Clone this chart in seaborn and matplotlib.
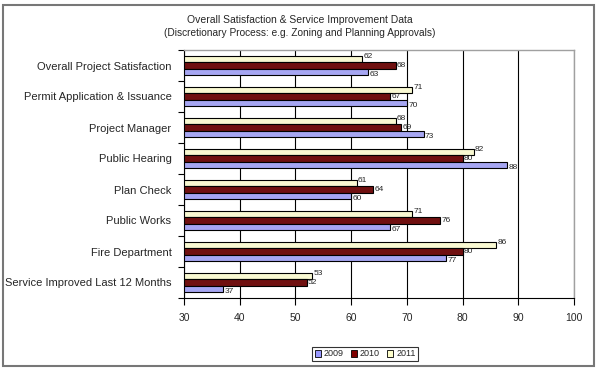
import matplotlib
matplotlib.use("Agg")
import matplotlib.pyplot as plt
import seaborn as sns
import pandas as pd
from matplotlib.patches import Rectangle, Patch

categories = ["Overall Project Satisfaction", "Permit Application & Issuance",
              "Project Manager", "Public Hearing", "Plan Check", "Public Works",
              "Fire Department", "Service Improved Last 12 Months"]
v2009 = [63, 70, 73, 88, 60, 67, 77, 37]
v2010 = [68, 67, 69, 80, 64, 76, 80, 52]
v2011 = [62, 71, 68, 82, 61, 71, 86, 53]
years = ["2009", "2010", "2011"]
xticks = [30, 40, 50, 60, 70, 80, 90, 100]

colors = {"2009": "#9999FF", "2010": "#800000", "2011": "#FFFFCC"}

rows = []
for y, vals in zip(years, [v2009, v2010, v2011]):
    for c, v in zip(categories, vals):
        rows.append({"category": c, "year": y, "value": v})
df = pd.DataFrame(rows)

sns.set_theme(style="white")
plt.rcParams["font.family"] = ["Liberation Sans", "DejaVu Sans"]

fig = plt.figure(figsize=(6, 3.75), dpi=100)
ax = fig.add_axes([184/600, 1-298/375, 390/600, 248/375])

sns.barplot(data=df, y="category", x="value", hue="year",
            hue_order=["2011", "2010", "2009"], order=categories,
            palette=colors, orient="h", width=0.62, ax=ax,
            edgecolor="black", linewidth=0.8, legend=False, errorbar=None)

ax.set_xlim(30, 100)
ax.set_xticks(xticks)
ax.set_xticklabels([str(t) for t in xticks], fontsize=7.5)
ax.set_xlabel("")
ax.set_ylabel("")
ax.tick_params(axis="y", which="major", length=0, labelsize=8, pad=9)
ax.set_yticks([i - 0.5 for i in range(len(categories) + 1)], minor=True)
ax.tick_params(axis="y", which="minor", length=4, color="black", width=0.8, direction="out", left=True)
ax.tick_params(axis="x", length=5, color="black", width=0.8, direction="out", bottom=True, pad=6)
ax.set_ylim(len(categories) - 0.5, -0.5)

ax.grid(axis="x", color="black", linewidth=0.8)
ax.set_axisbelow(True)
for s in ["left", "bottom"]:
    ax.spines[s].set_color("black")
    ax.spines[s].set_linewidth(0.8)
for s in ["top", "right"]:
    ax.spines[s].set_color("#A0A0A0")
    ax.spines[s].set_linewidth(1.0)

# containers order: 2011 (top), 2010, 2009 (bottom)
offsets = [2.2, 0.0, -2.2]
for cont, dy in zip(ax.containers, offsets):
    anns = ax.bar_label(cont, fontsize=6, padding=1)
    for a in anns:
        a.xyann = (1, dy)

handles = [Patch(facecolor=colors[y], edgecolor="black", linewidth=0.6, label=y) for y in years]
leg = fig.legend(handles=handles, loc="center", bbox_to_anchor=(365/600, 1-354/375),
                 ncol=3, fontsize=6.5, frameon=True, handlelength=0.7, handleheight=0.7,
                 handletextpad=0.3, columnspacing=0.8, borderpad=0.3, fancybox=False)
leg.get_frame().set_edgecolor("black")
leg.get_frame().set_linewidth(0.8)

fig.text(0.5, 1-20/375, "Overall Satisfaction & Service Improvement Data",
         ha="center", va="center", fontsize=7.5)
fig.text(0.5, 1-33/375, "(Discretionary Process: e.g. Zoning and Planning Approvals)",
         ha="center", va="center", fontsize=7.3)

fig.patches.append(Rectangle((3/600, 1-366/375), 591/600, 361/375, transform=fig.transFigure,
                             fill=False, edgecolor="#777777", linewidth=1.5))

fig.savefig("out.png", dpi=100)
